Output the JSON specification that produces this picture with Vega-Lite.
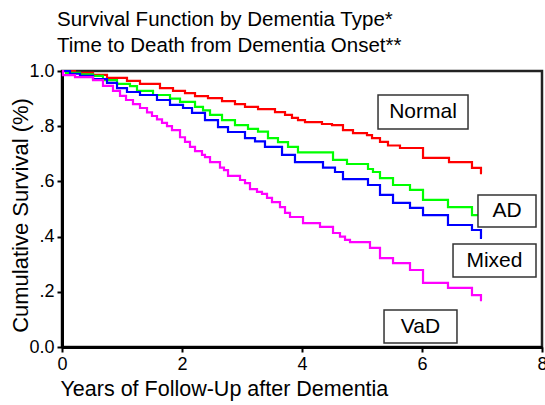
{
  "$schema": "https://vega.github.io/schema/vega-lite/v6.json",
  "width": 480,
  "height": 276,
  "autosize": {"type": "none"},
  "padding": {"left": 62, "top": 71, "right": 3, "bottom": 58},
  "background": "white",
  "config": {
    "font": "Liberation Sans",
    "view": {"stroke": "#222", "strokeWidth": 2.5}
  },
  "title": {
    "text": ["Survival Function by Dementia Type*", "Time to Death from Dementia Onset**"],
    "anchor": "start",
    "frame": "group",
    "fontSize": 20.5,
    "fontWeight": "normal",
    "color": "black",
    "lineHeight": 26,
    "dx": -5,
    "offset": 6
  },
  "datasets": {
    "curves": [
      {"g": "Normal", "t": 0, "s": 1.0},
      {"g": "Normal", "t": 0.217, "s": 0.993},
      {"g": "Normal", "t": 0.517, "s": 0.986},
      {"g": "Normal", "t": 0.75, "s": 0.975},
      {"g": "Normal", "t": 1.083, "s": 0.964},
      {"g": "Normal", "t": 1.3, "s": 0.953},
      {"g": "Normal", "t": 1.633, "s": 0.938},
      {"g": "Normal", "t": 1.85, "s": 0.928},
      {"g": "Normal", "t": 2.05, "s": 0.92},
      {"g": "Normal", "t": 2.217, "s": 0.909},
      {"g": "Normal", "t": 2.433, "s": 0.902},
      {"g": "Normal", "t": 2.667, "s": 0.891},
      {"g": "Normal", "t": 2.883, "s": 0.88},
      {"g": "Normal", "t": 3.05, "s": 0.87},
      {"g": "Normal", "t": 3.267, "s": 0.862},
      {"g": "Normal", "t": 3.55, "s": 0.851},
      {"g": "Normal", "t": 3.717, "s": 0.841},
      {"g": "Normal", "t": 3.833, "s": 0.83},
      {"g": "Normal", "t": 3.933, "s": 0.822},
      {"g": "Normal", "t": 4.05, "s": 0.815},
      {"g": "Normal", "t": 4.333, "s": 0.808},
      {"g": "Normal", "t": 4.5, "s": 0.804},
      {"g": "Normal", "t": 4.683, "s": 0.786},
      {"g": "Normal", "t": 4.85, "s": 0.775},
      {"g": "Normal", "t": 5.083, "s": 0.768},
      {"g": "Normal", "t": 5.167, "s": 0.757},
      {"g": "Normal", "t": 5.3, "s": 0.743},
      {"g": "Normal", "t": 5.433, "s": 0.73},
      {"g": "Normal", "t": 5.633, "s": 0.721},
      {"g": "Normal", "t": 6.017, "s": 0.685},
      {"g": "Normal", "t": 6.45, "s": 0.67},
      {"g": "Normal", "t": 6.833, "s": 0.649},
      {"g": "Normal", "t": 6.983, "s": 0.63},
      {"g": "Normal", "t": 7.0, "s": 0.63},
      {"g": "AD", "t": 0, "s": 1.0},
      {"g": "AD", "t": 0.067, "s": 0.993},
      {"g": "AD", "t": 0.3, "s": 0.988},
      {"g": "AD", "t": 0.517, "s": 0.982},
      {"g": "AD", "t": 0.683, "s": 0.967},
      {"g": "AD", "t": 0.917, "s": 0.953},
      {"g": "AD", "t": 1.133, "s": 0.945},
      {"g": "AD", "t": 1.25, "s": 0.928},
      {"g": "AD", "t": 1.517, "s": 0.913},
      {"g": "AD", "t": 1.8, "s": 0.9},
      {"g": "AD", "t": 1.967, "s": 0.888},
      {"g": "AD", "t": 2.217, "s": 0.87},
      {"g": "AD", "t": 2.35, "s": 0.857},
      {"g": "AD", "t": 2.467, "s": 0.841},
      {"g": "AD", "t": 2.667, "s": 0.822},
      {"g": "AD", "t": 2.883, "s": 0.804},
      {"g": "AD", "t": 3.1, "s": 0.79},
      {"g": "AD", "t": 3.267, "s": 0.78},
      {"g": "AD", "t": 3.433, "s": 0.757},
      {"g": "AD", "t": 3.6, "s": 0.742},
      {"g": "AD", "t": 3.767, "s": 0.725},
      {"g": "AD", "t": 3.933, "s": 0.705},
      {"g": "AD", "t": 4.517, "s": 0.678},
      {"g": "AD", "t": 4.75, "s": 0.663},
      {"g": "AD", "t": 5.1, "s": 0.645},
      {"g": "AD", "t": 5.183, "s": 0.634},
      {"g": "AD", "t": 5.3, "s": 0.612},
      {"g": "AD", "t": 5.517, "s": 0.587},
      {"g": "AD", "t": 5.8, "s": 0.569},
      {"g": "AD", "t": 6.017, "s": 0.533},
      {"g": "AD", "t": 6.433, "s": 0.507},
      {"g": "AD", "t": 6.833, "s": 0.478},
      {"g": "AD", "t": 6.983, "s": 0.47},
      {"g": "AD", "t": 7.0, "s": 0.47},
      {"g": "Mixed", "t": 0, "s": 1.0},
      {"g": "Mixed", "t": 0.133, "s": 0.99},
      {"g": "Mixed", "t": 0.3, "s": 0.982},
      {"g": "Mixed", "t": 0.517, "s": 0.971},
      {"g": "Mixed", "t": 0.75, "s": 0.957},
      {"g": "Mixed", "t": 0.917, "s": 0.938},
      {"g": "Mixed", "t": 1.083, "s": 0.924},
      {"g": "Mixed", "t": 1.3, "s": 0.913},
      {"g": "Mixed", "t": 1.583, "s": 0.895},
      {"g": "Mixed", "t": 1.8, "s": 0.877},
      {"g": "Mixed", "t": 2.017, "s": 0.866},
      {"g": "Mixed", "t": 2.167, "s": 0.848},
      {"g": "Mixed", "t": 2.383, "s": 0.822},
      {"g": "Mixed", "t": 2.6, "s": 0.797},
      {"g": "Mixed", "t": 2.767, "s": 0.779},
      {"g": "Mixed", "t": 3.05, "s": 0.757},
      {"g": "Mixed", "t": 3.217, "s": 0.745},
      {"g": "Mixed", "t": 3.383, "s": 0.725},
      {"g": "Mixed", "t": 3.667, "s": 0.696},
      {"g": "Mixed", "t": 3.883, "s": 0.67},
      {"g": "Mixed", "t": 4.35, "s": 0.65},
      {"g": "Mixed", "t": 4.55, "s": 0.634},
      {"g": "Mixed", "t": 4.683, "s": 0.608},
      {"g": "Mixed", "t": 5.1, "s": 0.587},
      {"g": "Mixed", "t": 5.3, "s": 0.551},
      {"g": "Mixed", "t": 5.517, "s": 0.522},
      {"g": "Mixed", "t": 5.8, "s": 0.504},
      {"g": "Mixed", "t": 6.017, "s": 0.478},
      {"g": "Mixed", "t": 6.433, "s": 0.442},
      {"g": "Mixed", "t": 6.833, "s": 0.424},
      {"g": "Mixed", "t": 6.983, "s": 0.395},
      {"g": "Mixed", "t": 7.0, "s": 0.395},
      {"g": "VaD", "t": 0, "s": 1.0},
      {"g": "VaD", "t": 0.017, "s": 0.985},
      {"g": "VaD", "t": 0.217, "s": 0.978},
      {"g": "VaD", "t": 0.517, "s": 0.967},
      {"g": "VaD", "t": 0.683, "s": 0.946},
      {"g": "VaD", "t": 0.85, "s": 0.928},
      {"g": "VaD", "t": 0.967, "s": 0.91},
      {"g": "VaD", "t": 1.067, "s": 0.895},
      {"g": "VaD", "t": 1.183, "s": 0.88},
      {"g": "VaD", "t": 1.3, "s": 0.866},
      {"g": "VaD", "t": 1.417, "s": 0.85},
      {"g": "VaD", "t": 1.5, "s": 0.837},
      {"g": "VaD", "t": 1.583, "s": 0.825},
      {"g": "VaD", "t": 1.667, "s": 0.812},
      {"g": "VaD", "t": 1.75, "s": 0.8},
      {"g": "VaD", "t": 1.833, "s": 0.786},
      {"g": "VaD", "t": 1.967, "s": 0.76},
      {"g": "VaD", "t": 2.05, "s": 0.743},
      {"g": "VaD", "t": 2.133, "s": 0.725},
      {"g": "VaD", "t": 2.217, "s": 0.71},
      {"g": "VaD", "t": 2.333, "s": 0.696},
      {"g": "VaD", "t": 2.383, "s": 0.688},
      {"g": "VaD", "t": 2.467, "s": 0.67},
      {"g": "VaD", "t": 2.633, "s": 0.65},
      {"g": "VaD", "t": 2.7, "s": 0.641},
      {"g": "VaD", "t": 2.767, "s": 0.62},
      {"g": "VaD", "t": 2.967, "s": 0.605},
      {"g": "VaD", "t": 3.05, "s": 0.594},
      {"g": "VaD", "t": 3.133, "s": 0.572},
      {"g": "VaD", "t": 3.25, "s": 0.562},
      {"g": "VaD", "t": 3.333, "s": 0.555},
      {"g": "VaD", "t": 3.417, "s": 0.54},
      {"g": "VaD", "t": 3.5, "s": 0.525},
      {"g": "VaD", "t": 3.633, "s": 0.507},
      {"g": "VaD", "t": 3.717, "s": 0.486},
      {"g": "VaD", "t": 3.8, "s": 0.471},
      {"g": "VaD", "t": 4.017, "s": 0.449},
      {"g": "VaD", "t": 4.3, "s": 0.435},
      {"g": "VaD", "t": 4.517, "s": 0.413},
      {"g": "VaD", "t": 4.633, "s": 0.4},
      {"g": "VaD", "t": 4.717, "s": 0.388},
      {"g": "VaD", "t": 4.8, "s": 0.38},
      {"g": "VaD", "t": 5.133, "s": 0.359},
      {"g": "VaD", "t": 5.3, "s": 0.322},
      {"g": "VaD", "t": 5.517, "s": 0.304},
      {"g": "VaD", "t": 5.8, "s": 0.279},
      {"g": "VaD", "t": 6.017, "s": 0.232},
      {"g": "VaD", "t": 6.433, "s": 0.214},
      {"g": "VaD", "t": 6.833, "s": 0.188},
      {"g": "VaD", "t": 6.983, "s": 0.17},
      {"g": "VaD", "t": 7.0, "s": 0.17}
    ],
    "labels": [
      {"label": "Normal", "t": 6.017, "s": 0.851, "t0": 5.267, "t1": 6.767, "s0": 0.79, "s1": 0.913},
      {"label": "AD", "t": 7.417, "s": 0.493, "t0": 6.933, "t1": 7.9, "s0": 0.435, "s1": 0.551},
      {"label": "Mixed", "t": 7.208, "s": 0.313, "t0": 6.517, "t1": 7.9, "s0": 0.254, "s1": 0.373},
      {"label": "VaD", "t": 5.975, "s": 0.074, "t0": 5.367, "t1": 6.583, "s0": 0.0145, "s1": 0.134}
    ]
  },
  "layer": [
    {
      "data": {"name": "curves"},
      "mark": {"type": "line", "interpolate": "step-after", "strokeWidth": 2.2},
      "encoding": {
        "x": {
          "field": "t", "type": "quantitative",
          "scale": {"domain": [0, 8], "nice": false},
          "axis": {
            "values": [0, 2, 4, 6, 8],
            "format": "d",
            "title": "Years of Follow-Up after Dementia",
            "grid": false,
            "domainColor": "black", "domainWidth": 3,
            "tickColor": "black", "tickWidth": 2, "tickSize": 5,
            "labelFontSize": 18, "labelColor": "black", "labelPadding": 3, "labelFlush": false,
            "titleFontSize": 21.5, "titleFontWeight": "normal", "titleColor": "black",
            "titleAlign": "left", "titleAnchor": "start", "titleX": -2, "titleY": 48, "titleBaseline": "alphabetic"
          }
        },
        "y": {
          "field": "s", "type": "quantitative",
          "scale": {"domain": [0, 1], "nice": false},
          "axis": {
            "values": [0, 0.2, 0.4, 0.6, 0.8, 1.0],
            "labelExpr": "datum.value == 0 ? '0.0' : (datum.value == 1 ? '1.0' : '.' + format(datum.value * 10, 'd'))",
            "title": "Cumulative Survival (%)",
            "grid": false,
            "domainColor": "black", "domainWidth": 3,
            "tickColor": "black", "tickWidth": 2, "tickSize": 5,
            "labelFontSize": 18, "labelColor": "black", "labelPadding": 3,
            "titleFontSize": 22, "titleFontWeight": "normal", "titleColor": "black",
            "titleX": -35, "titleY": 144, "titleBaseline": "alphabetic"
          }
        },
        "color": {
          "field": "g", "type": "nominal",
          "scale": {"domain": ["Normal", "AD", "Mixed", "VaD"], "range": ["#FF0000", "#00FF00", "#0000FF", "#FF00FF"]},
          "legend": null
        }
      }
    },
    {
      "data": {"name": "labels"},
      "mark": {"type": "rect", "fill": "white", "stroke": "#333", "strokeWidth": 1.5},
      "encoding": {
        "x": {"field": "t0", "type": "quantitative"},
        "x2": {"field": "t1"},
        "y": {"field": "s0", "type": "quantitative"},
        "y2": {"field": "s1"}
      }
    },
    {
      "data": {"name": "labels"},
      "mark": {"type": "text", "fontSize": 21, "color": "black", "align": "center", "baseline": "middle"},
      "encoding": {
        "x": {"field": "t", "type": "quantitative"},
        "y": {"field": "s", "type": "quantitative"},
        "text": {"field": "label"}
      }
    }
  ]
}
